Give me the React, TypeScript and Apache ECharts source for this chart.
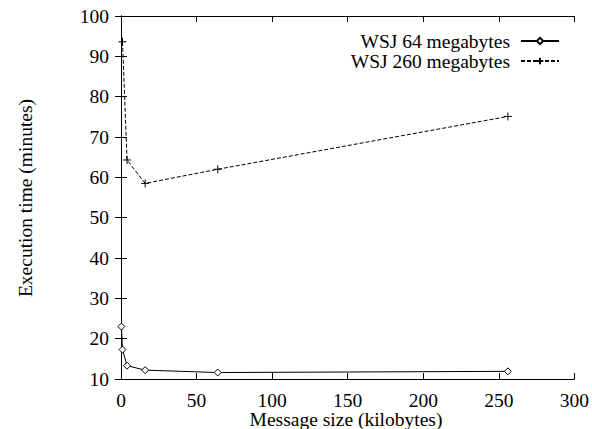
import React, { useEffect, useRef } from "react";
import * as echarts from "echarts";

const seriesNames = ["WSJ 64 megabytes", "WSJ 260 megabytes"];
const wsj64X = [0.25, 1, 4, 16, 64, 256];
const wsj64Y = [23.0, 17.3, 13.3, 12.2, 11.6, 11.9];
const wsj260X = [1, 4, 16, 64, 256];
const wsj260Y = [93.6, 64.3, 58.5, 62.0, 75.1];
const xTitle = "Message size (kilobytes)";
const yTitle = "Execution time (minutes)";

const FONT = "Liberation Serif";
const PLUS = "path://M0,5L10,5M5,0L5,10";
const FS = 19.5;

export default function App() {
  const ref = useRef<HTMLDivElement>(null);
  useEffect(() => {
    if (!ref.current) return;
    const chart = echarts.init(ref.current, undefined, { renderer: "svg" });
    const axisCommon = {
      type: "value" as const,
      axisLine: { show: true, lineStyle: { color: "#000", width: 1 } },
      axisTick: { show: true, inside: true, length: 6, lineStyle: { color: "#000" } },
      splitLine: { show: false },
    };
    const labelStyle = { color: "#000", fontFamily: FONT, fontSize: FS };
    chart.setOption({
      animation: false,
      backgroundColor: "#fff",
      textStyle: { fontFamily: FONT },
      grid: { left: 121, right: 15, top: 16, bottom: 50, containLabel: false },
      xAxis: [
        {
          ...axisCommon,
          min: 0,
          max: 300,
          interval: 50,
          position: "bottom",
          axisLabel: { ...labelStyle, margin: 11 },
        },
        {
          ...axisCommon,
          min: 0,
          max: 300,
          interval: 50,
          position: "top",
          axisLabel: { show: false },
        },
      ],
      yAxis: [
        {
          ...axisCommon,
          min: 10,
          max: 100,
          interval: 10,
          position: "left",
          axisLabel: { ...labelStyle, margin: 12 },
        },
        {
          ...axisCommon,
          min: 10,
          max: 100,
          interval: 10,
          position: "right",
          axisLabel: { show: false },
        },
      ],
      legend: [
        {
          data: [seriesNames[0]],
          right: 27,
          top: 26,
          align: "right",
          itemWidth: 38,
          itemHeight: 8,
          itemGap: 0,
          textStyle: { ...labelStyle, padding: [0, 6, 0, 0] },
        },
        {
          data: [seriesNames[1]],
          right: 27,
          top: 46,
          align: "right",
          itemWidth: 38,
          itemHeight: 8,
          itemGap: 0,
          textStyle: { ...labelStyle, padding: [0, 6, 0, 0] },
        },
      ],
      graphic: [
        {
          type: "text",
          x: 346,
          y: 419,
          style: {
            text: xTitle,
            fill: "#000",
            font: `${FS}px "${FONT}"`,
            textAlign: "center",
            textVerticalAlign: "middle",
          },
        },
        {
          type: "text",
          x: 25,
          y: 198,
          rotation: Math.PI / 2,
          style: {
            text: yTitle,
            fill: "#000",
            font: `${FS}px "${FONT}"`,
            textAlign: "center",
            textVerticalAlign: "middle",
          },
        },
      ],
      series: [
        {
          name: seriesNames[0],
          type: "line",
          data: wsj64X.map((x, i) => [x, wsj64Y[i]]),
          symbol: "diamond",
          symbolSize: 7,
          showAllSymbol: true,
          lineStyle: { color: "#000", width: 1, type: "solid" },
          itemStyle: { color: "#fff", borderColor: "#000", borderWidth: 1 },
        },
        {
          name: seriesNames[1],
          type: "line",
          data: wsj260X.map((x, i) => [x, wsj260Y[i]]),
          symbol: PLUS,
          symbolSize: 8,
          showAllSymbol: true,
          lineStyle: { color: "#000", width: 1, type: [4, 2] },
          itemStyle: { color: "none", borderColor: "#000", borderWidth: 1 },
        },
      ],
    });
    return () => chart.dispose();
  }, []);
  return <div ref={ref} style={{ width: 592, height: 429, position: "absolute", left: 0, top: 0 }} />;
}
